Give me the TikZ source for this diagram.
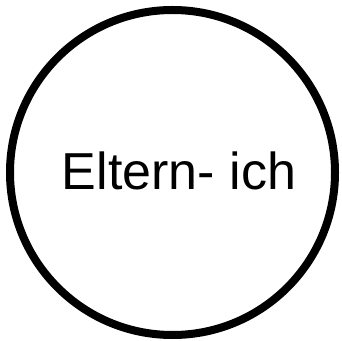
\documentclass[tikz,border=0pt]{standalone}
\usepackage{fontspec}
\setmainfont{Liberation Sans}
\usetikzlibrary{positioning}

\begin{document}
\begin{tikzpicture}[x=1pt,y=1pt,line join=round,line cap=round,
  egostate/.style={circle,draw,line width=8pt,minimum size=325pt,inner sep=0pt},
  egolabel/.style={inner sep=0pt,font=\fontsize{52}{60}\selectfont}]
  \useasboundingbox (0,0) rectangle (342,340);
  \node[egostate] (eltern) at (172.5,167.5) {};
  \node[egolabel,xshift=6.5pt,yshift=1.5pt] (elternlabel) at (eltern.center) {Eltern- ich};
\end{tikzpicture}
\end{document}
